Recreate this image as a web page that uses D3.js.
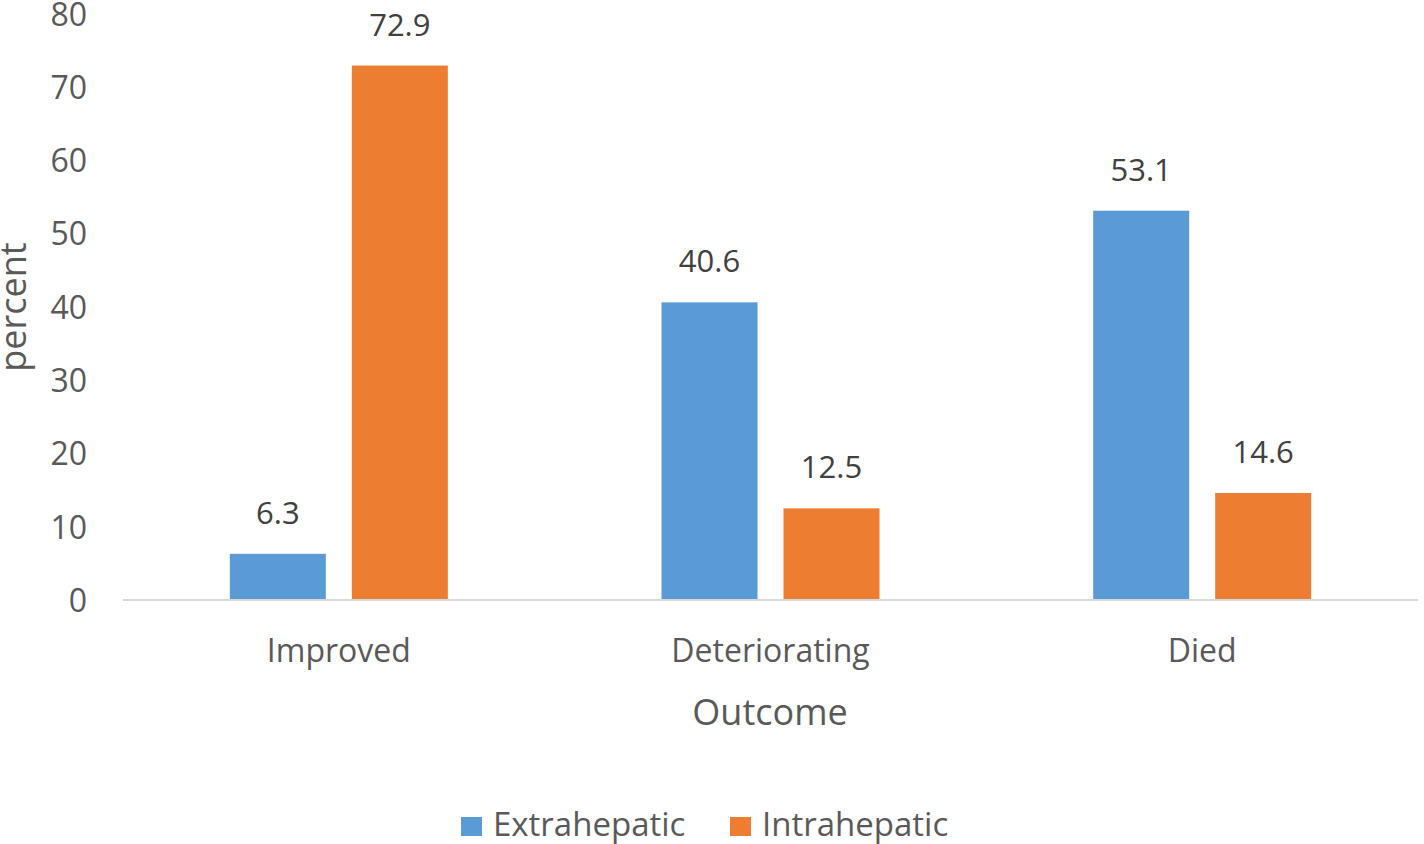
<!DOCTYPE html>
<html><head><meta charset="utf-8">
<script src="https://cdn.jsdelivr.net/npm/d3@7"></script>
<style>body{margin:0;background:#fff}svg{display:block}text{font-family:"Open Sans",sans-serif;fill:#595959}</style>
</head><body><svg id="c" width="1424" height="844"></svg>
<script>
const categories = ["Improved","Deteriorating","Died"];
const seriesNames = ["Extrahepatic","Intrahepatic"];
const extrahepatic = [6.3, 40.6, 53.1];
const intrahepatic = [72.9, 12.5, 14.6];
const yTicks = [0,10,20,30,40,50,60,70,80];
const colors = ["#5B9BD5","#ED7D31"];

const svg = d3.select("#c");
const x = d3.scaleBand().domain(categories).range([123,1418]);
const y = d3.scaleLinear().domain([0,80]).range([600,13.5]);
const series = [extrahepatic, intrahepatic];
const barW = 96, gap = 26;

// axis line
svg.append("line").attr("x1",123).attr("x2",1418).attr("y1",y(0)).attr("y2",y(0))
  .attr("stroke","#D9D9D9").attr("stroke-width",2);

// y tick labels
svg.selectAll(".yt").data(yTicks).join("text")
  .attr("x",87).attr("y",d=>y(d)+12).attr("text-anchor","end")
  .attr("font-size",32).text(d=>d);

series.forEach((vals,si)=>{
  const off = si===0 ? -(gap/2+barW) : gap/2;
  svg.selectAll(".b"+si).data(vals).join("rect")
    .attr("x",(d,i)=>x(categories[i])+x.bandwidth()/2+off)
    .attr("width",barW)
    .attr("y",d=>y(d)).attr("height",d=>y(0)-y(d)-1)
    .attr("fill",colors[si]);
  svg.selectAll(".l"+si).data(vals).join("text")
    .attr("x",(d,i)=>x(categories[i])+x.bandwidth()/2+off+barW/2)
    .attr("y",d=>y(d)-30).attr("text-anchor","middle")
    .attr("font-size",31).style("fill","#404040")
    .text(d=>d.toFixed(1));
});

// category labels
svg.selectAll(".cat").data(categories).join("text")
  .attr("x",d=>x(d)+x.bandwidth()/2).attr("y",662).attr("text-anchor","middle")
  .attr("font-size",32).text(d=>d);

svg.append("text").attr("x",770).attr("y",725).attr("text-anchor","middle")
  .attr("font-size",36).text("Outcome");
svg.append("text").attr("transform","translate(26,307) rotate(-90)").attr("text-anchor","middle")
  .attr("font-size",36).text("percent");

// legend
const legX = [461, 730];
seriesNames.forEach((n,i)=>{
  svg.append("rect").attr("x",legX[i]).attr("y",817).attr("width",21).attr("height",19).attr("fill",colors[i]);
  svg.append("text").attr("x",legX[i]+32).attr("y",836).attr("font-size",33).text(n);
});
</script></body></html>
